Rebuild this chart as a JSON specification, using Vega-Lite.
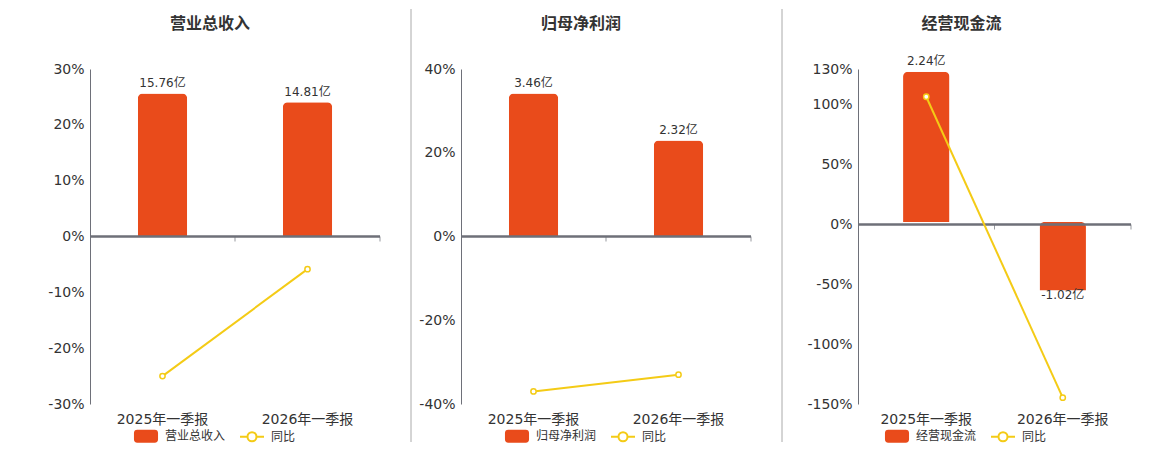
{
  "$schema": "https://vega.github.io/schema/vega-lite/v6.json",
  "padding": {"top": 8, "left": 5, "right": 5, "bottom": 0},
  "config": {
    "view": {"stroke": null},
    "font": "DejaVu Sans, Noto Sans CJK SC, sans-serif",
    "axis": {
      "labelFont": "DejaVu Sans, Noto Sans CJK SC, sans-serif",
      "labelFontSize": 14,
      "labelColor": "#333333"
    },
    "legend": {
      "labelFont": "DejaVu Sans, Noto Sans CJK SC, sans-serif",
      "labelFontSize": 12,
      "labelColor": "#333333"
    },
    "title": {
      "font": "DejaVu Sans, Noto Sans CJK SC, sans-serif",
      "fontSize": 16,
      "fontWeight": "bold",
      "color": "#333333",
      "anchor": "middle",
      "frame": "group",
      "baseline": "line-top",
      "lineHeight": 28
    }
  },
  "datasets": {
    "rev": [
      {"period": "2025年一季报", "amount": 15.76, "label": "15.76亿", "yoy": -25.0},
      {"period": "2026年一季报", "amount": 14.81, "label": "14.81亿", "yoy": -5.85}
    ],
    "np": [
      {"period": "2025年一季报", "amount": 3.46, "label": "3.46亿", "yoy": -37.0},
      {"period": "2026年一季报", "amount": 2.32, "label": "2.32亿", "yoy": -33.0}
    ],
    "cf": [
      {"period": "2025年一季报", "amount": 2.24, "label": "2.24亿", "yoy": 106.8},
      {"period": "2026年一季报", "amount": -1.02, "label": "-1.02亿", "yoy": -144.7}
    ]
  },
  "spacing": 0,
  "hconcat": [
    {
      "width": 290,
      "height": 335,
      "data": {"name": "rev"},
      "title": {"text": "营业总收入", "dx": -25, "offset": 30},
      "layer": [
        {
          "encoding": {
            "x": {"field": "period", "type": "nominal", "sort": null, "title": null, "scale": {"paddingInner": 0, "paddingOuter": 0}, "axis": {"labelAngle": 0, "domain": false, "ticks": false, "labelPadding": 8}},
            "y": {"field": "amount", "type": "quantitative", "scale": {"domain": [-18.47, 18.47], "nice": false, "zero": false}, "axis": null}
          },
          "layer": [
            {
              "mark": {"type": "bar", "width": {"band": 0.34}, "cornerRadiusEnd": 5},
              "encoding": {
                "color": {
                  "datum": "营业总收入",
                  "type": "nominal",
                  "scale": {"domain": ["营业总收入", "同比"], "range": ["#E94B1B", "#F4CB16"]},
                  "legend": {
                    "orient": "none", "legendX": 43, "legendY": 354, "direction": "horizontal", "title": null,
                    "symbolSize": 576, "labelOffset": 6, "columnPadding": 10, "padding": 0,
                    "encode": {"symbols": {"update": {
                      "shape": {"signal": "datum.value === '同比' ? 'M-1,0L-0.375,0M0.375,0L1,0M0.375,0A0.375,0.375,0,1,1,-0.375,0A0.375,0.375,0,1,1,0.375,0M0.375,0A0.375,0.375,0,1,0,-0.375,0A0.375,0.375,0,1,0,0.375,0' : 'M-0.72,-0.46L0.72,-0.46Q0.92,-0.46,0.92,-0.26L0.92,0.26Q0.92,0.46,0.72,0.46L-0.72,0.46Q-0.92,0.46,-0.92,0.26L-0.92,-0.26Q-0.92,-0.46,-0.72,-0.46Z'"},
                      "strokeWidth": {"value": 2},
                      "size": {"value": 576},
                      "opacity": {"value": 1}
                    }}}
                  }
                }
              }
            },
            {
              "transform": [{"filter": "datum.amount >= 0"}],
              "mark": {"type": "text", "baseline": "middle", "dy": -10.5, "fontSize": 12, "color": "#333333"},
              "encoding": {"text": {"field": "label"}}
            },
            {
              "transform": [{"filter": "datum.amount < 0"}],
              "mark": {"type": "text", "baseline": "middle", "dy": 4, "fontSize": 12, "color": "#333333"},
              "encoding": {"text": {"field": "label"}}
            }
          ]
        },
        {
          "encoding": {
            "y": {"field": "yoy", "type": "quantitative", "scale": {"domain": [-30, 30], "nice": false},
              "axis": {"values": [-30, -20, -10, 0, 10, 20, 30], "labelExpr": "datum.value + '%'", "title": null, "ticks": false, "domainColor": "#6E7079", "gridColor": "#E0E6F1", "labelPadding": 6, "minExtent": 85, "maxExtent": 85}}
          },
          "layer": [
            {
              "mark": {"type": "rule", "color": "#6E7079", "strokeWidth": 2},
              "encoding": {"y": {"datum": 0, "type": "quantitative", "scale": {"domain": [-30, 30], "nice": false}}}
            },
            {
              "mark": {"type": "tick", "orient": "vertical", "color": "#6E7079", "size": 5, "thickness": 1, "yOffset": 2.5},
              "encoding": {
                "x": {"field": "period", "type": "nominal", "sort": null, "bandPosition": 1},
                "y": {"datum": 0, "type": "quantitative", "scale": {"domain": [-30, 30], "nice": false}}
              }
            },
            {
              "mark": {"type": "line", "strokeWidth": 2},
              "encoding": {
                "x": {"field": "period", "type": "nominal", "sort": null},
                "color": {"datum": "同比", "type": "nominal"}
              }
            },
            {
              "mark": {"type": "point", "shape": "circle", "filled": true, "fill": "#ffffff", "stroke": "#F4CB16", "strokeWidth": 1.5, "size": 28, "opacity": 1},
              "encoding": {"x": {"field": "period", "type": "nominal", "sort": null}}
            }
          ]
        }
      ],
      "resolve": {"scale": {"y": "independent"}}
    },
    {
      "width": 30,
      "height": 335,
      "data": {"values": [{"sep": 1}]},
      "mark": {"type": "rule", "color": "#AAAAAA", "strokeWidth": 1},
      "encoding": {
        "x": {"datum": 1, "type": "quantitative", "scale": {"domain": [0, 1]}, "axis": null},
        "y": {"datum": 395, "type": "quantitative", "scale": {"domain": [0, 335], "nice": false}, "axis": null},
        "y2": {"datum": -38}
      }
    },
    {
      "width": 290,
      "height": 335,
      "data": {"name": "np"},
      "title": {"text": "归母净利润", "dx": -25, "offset": 30},
      "layer": [
        {
          "encoding": {
            "x": {"field": "period", "type": "nominal", "sort": null, "title": null, "scale": {"paddingInner": 0, "paddingOuter": 0}, "axis": {"labelAngle": 0, "domain": false, "ticks": false, "labelPadding": 8}},
            "y": {"field": "amount", "type": "quantitative", "scale": {"domain": [-4.05, 4.05], "nice": false, "zero": false}, "axis": null}
          },
          "layer": [
            {
              "mark": {"type": "bar", "width": {"band": 0.34}, "cornerRadiusEnd": 5},
              "encoding": {
                "color": {
                  "datum": "归母净利润",
                  "type": "nominal",
                  "scale": {"domain": ["归母净利润", "同比"], "range": ["#E94B1B", "#F4CB16"]},
                  "legend": {
                    "orient": "none", "legendX": 43, "legendY": 354, "direction": "horizontal", "title": null,
                    "symbolSize": 576, "labelOffset": 6, "columnPadding": 10, "padding": 0,
                    "encode": {"symbols": {"update": {
                      "shape": {"signal": "datum.value === '同比' ? 'M-1,0L-0.375,0M0.375,0L1,0M0.375,0A0.375,0.375,0,1,1,-0.375,0A0.375,0.375,0,1,1,0.375,0M0.375,0A0.375,0.375,0,1,0,-0.375,0A0.375,0.375,0,1,0,0.375,0' : 'M-0.72,-0.46L0.72,-0.46Q0.92,-0.46,0.92,-0.26L0.92,0.26Q0.92,0.46,0.72,0.46L-0.72,0.46Q-0.92,0.46,-0.92,0.26L-0.92,-0.26Q-0.92,-0.46,-0.72,-0.46Z'"},
                      "strokeWidth": {"value": 2},
                      "size": {"value": 576},
                      "opacity": {"value": 1}
                    }}}
                  }
                }
              }
            },
            {
              "transform": [{"filter": "datum.amount >= 0"}],
              "mark": {"type": "text", "baseline": "middle", "dy": -10.5, "fontSize": 12, "color": "#333333"},
              "encoding": {"text": {"field": "label"}}
            },
            {
              "transform": [{"filter": "datum.amount < 0"}],
              "mark": {"type": "text", "baseline": "middle", "dy": 4, "fontSize": 12, "color": "#333333"},
              "encoding": {"text": {"field": "label"}}
            }
          ]
        },
        {
          "encoding": {
            "y": {"field": "yoy", "type": "quantitative", "scale": {"domain": [-40, 40], "nice": false},
              "axis": {"values": [-40, -20, 0, 20, 40], "labelExpr": "datum.value + '%'", "title": null, "ticks": false, "domainColor": "#6E7079", "gridColor": "#E0E6F1", "labelPadding": 6, "minExtent": 49, "maxExtent": 49}}
          },
          "layer": [
            {
              "mark": {"type": "rule", "color": "#6E7079", "strokeWidth": 2},
              "encoding": {"y": {"datum": 0, "type": "quantitative", "scale": {"domain": [-40, 40], "nice": false}}}
            },
            {
              "mark": {"type": "tick", "orient": "vertical", "color": "#6E7079", "size": 5, "thickness": 1, "yOffset": 2.5},
              "encoding": {
                "x": {"field": "period", "type": "nominal", "sort": null, "bandPosition": 1},
                "y": {"datum": 0, "type": "quantitative", "scale": {"domain": [-40, 40], "nice": false}}
              }
            },
            {
              "mark": {"type": "line", "strokeWidth": 2},
              "encoding": {
                "x": {"field": "period", "type": "nominal", "sort": null},
                "color": {"datum": "同比", "type": "nominal"}
              }
            },
            {
              "mark": {"type": "point", "shape": "circle", "filled": true, "fill": "#ffffff", "stroke": "#F4CB16", "strokeWidth": 1.5, "size": 28, "opacity": 1},
              "encoding": {"x": {"field": "period", "type": "nominal", "sort": null}}
            }
          ]
        }
      ],
      "resolve": {"scale": {"y": "independent"}}
    },
    {
      "width": 30,
      "height": 335,
      "data": {"values": [{"sep": 1}]},
      "mark": {"type": "rule", "color": "#AAAAAA", "strokeWidth": 1},
      "encoding": {
        "x": {"datum": 1, "type": "quantitative", "scale": {"domain": [0, 1]}, "axis": null},
        "y": {"datum": 395, "type": "quantitative", "scale": {"domain": [0, 335], "nice": false}, "axis": null},
        "y2": {"datum": -38}
      }
    },
    {
      "width": 273,
      "height": 335,
      "data": {"name": "cf"},
      "title": {"text": "经营现金流", "dx": -33, "offset": 23},
      "layer": [
        {
          "encoding": {
            "x": {"field": "period", "type": "nominal", "sort": null, "title": null, "scale": {"paddingInner": 0, "paddingOuter": 0}, "axis": {"labelAngle": 0, "domain": false, "ticks": false, "labelPadding": 8}},
            "y": {"field": "amount", "type": "quantitative", "scale": {"domain": [-2.71, 2.28], "nice": false, "zero": false}, "axis": null}
          },
          "layer": [
            {
              "mark": {"type": "bar", "width": {"band": 0.34}, "cornerRadiusEnd": 5},
              "encoding": {
                "color": {
                  "datum": "经营现金流",
                  "type": "nominal",
                  "scale": {"domain": ["经营现金流", "同比"], "range": ["#E94B1B", "#F4CB16"]},
                  "legend": {
                    "orient": "none", "legendX": 26, "legendY": 354, "direction": "horizontal", "title": null,
                    "symbolSize": 576, "labelOffset": 6, "columnPadding": 10, "padding": 0,
                    "encode": {"symbols": {"update": {
                      "shape": {"signal": "datum.value === '同比' ? 'M-1,0L-0.375,0M0.375,0L1,0M0.375,0A0.375,0.375,0,1,1,-0.375,0A0.375,0.375,0,1,1,0.375,0M0.375,0A0.375,0.375,0,1,0,-0.375,0A0.375,0.375,0,1,0,0.375,0' : 'M-0.72,-0.46L0.72,-0.46Q0.92,-0.46,0.92,-0.26L0.92,0.26Q0.92,0.46,0.72,0.46L-0.72,0.46Q-0.92,0.46,-0.92,0.26L-0.92,-0.26Q-0.92,-0.46,-0.72,-0.46Z'"},
                      "strokeWidth": {"value": 2},
                      "size": {"value": 576},
                      "opacity": {"value": 1}
                    }}}
                  }
                }
              }
            },
            {
              "transform": [{"filter": "datum.amount >= 0"}],
              "mark": {"type": "text", "baseline": "middle", "dy": -11, "fontSize": 12, "color": "#333333"},
              "encoding": {"text": {"field": "label"}}
            },
            {
              "transform": [{"filter": "datum.amount < 0"}],
              "mark": {"type": "text", "baseline": "middle", "dy": 4, "fontSize": 12, "color": "#333333"},
              "encoding": {"text": {"field": "label"}}
            }
          ]
        },
        {
          "encoding": {
            "y": {"field": "yoy", "type": "quantitative", "scale": {"domain": [-150, 130], "nice": false},
              "axis": {"values": [-150, -100, -50, 0, 50, 100, 130], "labelExpr": "datum.value + '%'", "title": null, "ticks": false, "domainColor": "#6E7079", "gridColor": "#E0E6F1", "labelPadding": 6, "minExtent": 75, "maxExtent": 75}}
          },
          "layer": [
            {
              "mark": {"type": "rule", "color": "#6E7079", "strokeWidth": 2},
              "encoding": {"y": {"datum": 0, "type": "quantitative", "scale": {"domain": [-150, 130], "nice": false}}}
            },
            {
              "mark": {"type": "tick", "orient": "vertical", "color": "#6E7079", "size": 5, "thickness": 1, "yOffset": 2.5},
              "encoding": {
                "x": {"field": "period", "type": "nominal", "sort": null, "bandPosition": 1},
                "y": {"datum": 0, "type": "quantitative", "scale": {"domain": [-150, 130], "nice": false}}
              }
            },
            {
              "mark": {"type": "line", "strokeWidth": 2},
              "encoding": {
                "x": {"field": "period", "type": "nominal", "sort": null},
                "color": {"datum": "同比", "type": "nominal"}
              }
            },
            {
              "mark": {"type": "point", "shape": "circle", "filled": true, "fill": "#ffffff", "stroke": "#F4CB16", "strokeWidth": 1.5, "size": 28, "opacity": 1},
              "encoding": {"x": {"field": "period", "type": "nominal", "sort": null}}
            }
          ]
        }
      ],
      "resolve": {"scale": {"y": "independent"}}
    }
  ],
  "resolve": {"scale": {"color": "independent"}, "legend": {"color": "independent"}}
}
